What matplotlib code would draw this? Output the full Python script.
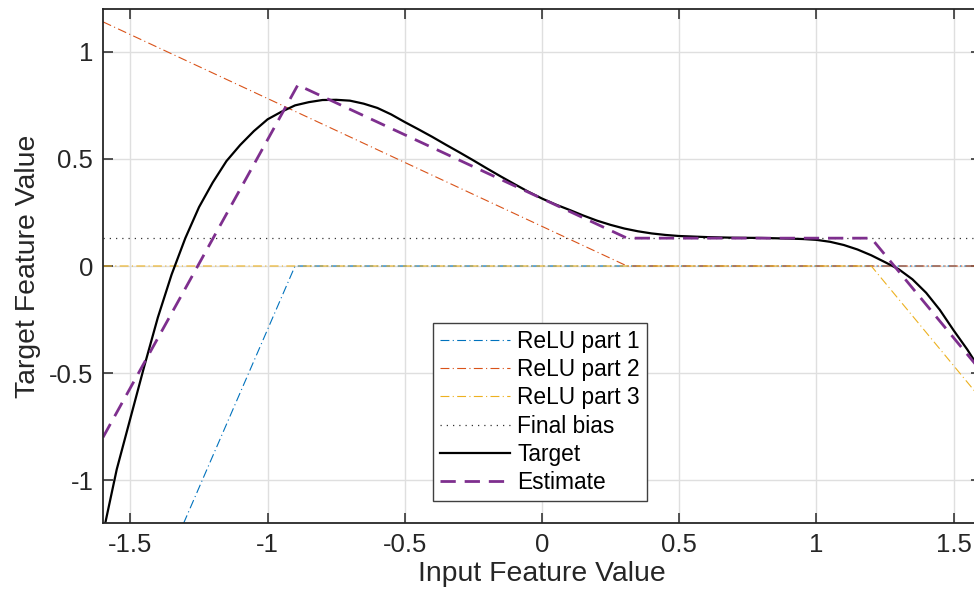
import numpy as np
import matplotlib
matplotlib.use('Agg')
import matplotlib.pyplot as plt

plt.rcParams['font.family'] = ['Liberation Sans', 'DejaVu Sans']

# ReLU pieces (vertices)
relu1_x = [-1.6, -0.9, 1.6]
relu1_y = [-2.07, 0.0, 0.0]
relu2_x = [-1.6, 0.31, 1.6]
relu2_y = [1.14, 0.0, 0.0]
relu3_x = [-1.6, 1.2, 1.6]
relu3_y = [0.0, 0.0, -0.62]
bias_x = [-1.6, 1.6]
bias_y = [0.13, 0.13]

# target curve samples
target_x = [-1.6, -1.55, -1.5, -1.45, -1.4, -1.35, -1.3, -1.25, -1.2, -1.15, -1.1,
            -1.05, -1.0, -0.95, -0.9, -0.85, -0.8, -0.75, -0.7, -0.65, -0.6, -0.55,
            -0.5, -0.45, -0.4, -0.35, -0.3, -0.25, -0.2, -0.15, -0.1, -0.05,
            0.0, 0.05, 0.1, 0.15, 0.2, 0.25, 0.3, 0.35, 0.4, 0.45, 0.5, 0.6, 0.7,
            0.8, 0.9, 0.95, 1.0, 1.05, 1.1, 1.15, 1.2, 1.25, 1.3, 1.35, 1.4, 1.45,
            1.5, 1.55, 1.6]
target_y = [-1.25, -0.95, -0.71, -0.47, -0.24, -0.04, 0.13, 0.275, 0.39, 0.49, 0.565,
            0.63, 0.685, 0.72, 0.75, 0.765, 0.775, 0.776, 0.772, 0.758, 0.738, 0.708,
            0.672, 0.638, 0.603, 0.566, 0.53, 0.493, 0.455, 0.418, 0.382, 0.347,
            0.315, 0.287, 0.262, 0.236, 0.212, 0.192, 0.175, 0.162, 0.152, 0.145, 0.14, 0.135, 0.132,
            0.131, 0.128, 0.126, 0.122, 0.113, 0.098, 0.077, 0.05, 0.018, -0.015, -0.062, -0.125, -0.205,
            -0.30, -0.39, -0.49]

# estimate (sum of the pieces)
est_x = [-1.6, -0.89, 0.31, 1.2, 1.6]
est_y = [-0.80, 0.845, 0.13, 0.13, -0.49]

xticks = [-1.5, -1, -0.5, 0, 0.5, 1, 1.5]
xticklabels = ['-1.5', '-1', '-0.5', '0', '0.5', '1', '1.5']
yticks = [-1, -0.5, 0, 0.5, 1]
yticklabels = ['-1', '-0.5', '0', '0.5', '1']

W, H = 974, 599
fig = plt.figure(figsize=(W/100, H/100), dpi=100)
ax = fig.add_axes([103/W, 76/H, 878/W, 514/H])

ax.plot(relu1_x, relu1_y, color='#0072BD', lw=0.8, dashes=(8, 3, 1, 3), label='ReLU part 1')
ax.plot(relu2_x, relu2_y, color='#D95319', lw=0.8, dashes=(8, 3, 1, 3), label='ReLU part 2')
ax.plot(relu3_x, relu3_y, color='#EDB120', lw=0.8, dashes=(8, 3, 1, 3), label='ReLU part 3')
ax.plot(bias_x, bias_y, color='#333333', lw=0.9, dashes=(1, 4), label='Final bias')
ax.plot(target_x, target_y, color='k', lw=1.6, label='Target')
ax.plot(est_x, est_y, color='#7E2F8E', lw=2.0, dashes=(5.5, 3.2), label='Estimate')

ax.set_xlim(-1.6, 1.6)
ax.set_ylim(-1.2, 1.2)
ax.set_xticks(xticks)
ax.set_xticklabels(xticklabels)
ax.set_yticks(yticks)
ax.set_yticklabels(yticklabels)
ax.grid(True, color='#dfdfdf', lw=1.0)
ax.set_axisbelow(True)
ax.tick_params(direction='in', length=7, width=1.1, color='#262626', labelcolor='#262626',
               labelsize=18.5, top=True, right=True, pad=7)
for s in ax.spines.values():
    s.set_color('#262626')
    s.set_linewidth(1.3)

ax.set_xlabel('Input Feature Value', fontsize=20.4, color='#262626', labelpad=3)
ax.set_ylabel('Target Feature Value', fontsize=20.4, color='#262626', labelpad=6)

leg = ax.legend(loc='upper left', bbox_to_anchor=(433/W, 1 - 323/H),
                bbox_transform=fig.transFigure, fontsize=16.4, frameon=True,
                fancybox=False, borderaxespad=0, borderpad=0.3, labelspacing=0.23,
                handlelength=3.1, handletextpad=0.3)
leg.get_frame().set_edgecolor('#404040')
leg.get_frame().set_linewidth(1.0)
leg.get_frame().set_alpha(1)

fig.savefig('out.png', dpi=100)
